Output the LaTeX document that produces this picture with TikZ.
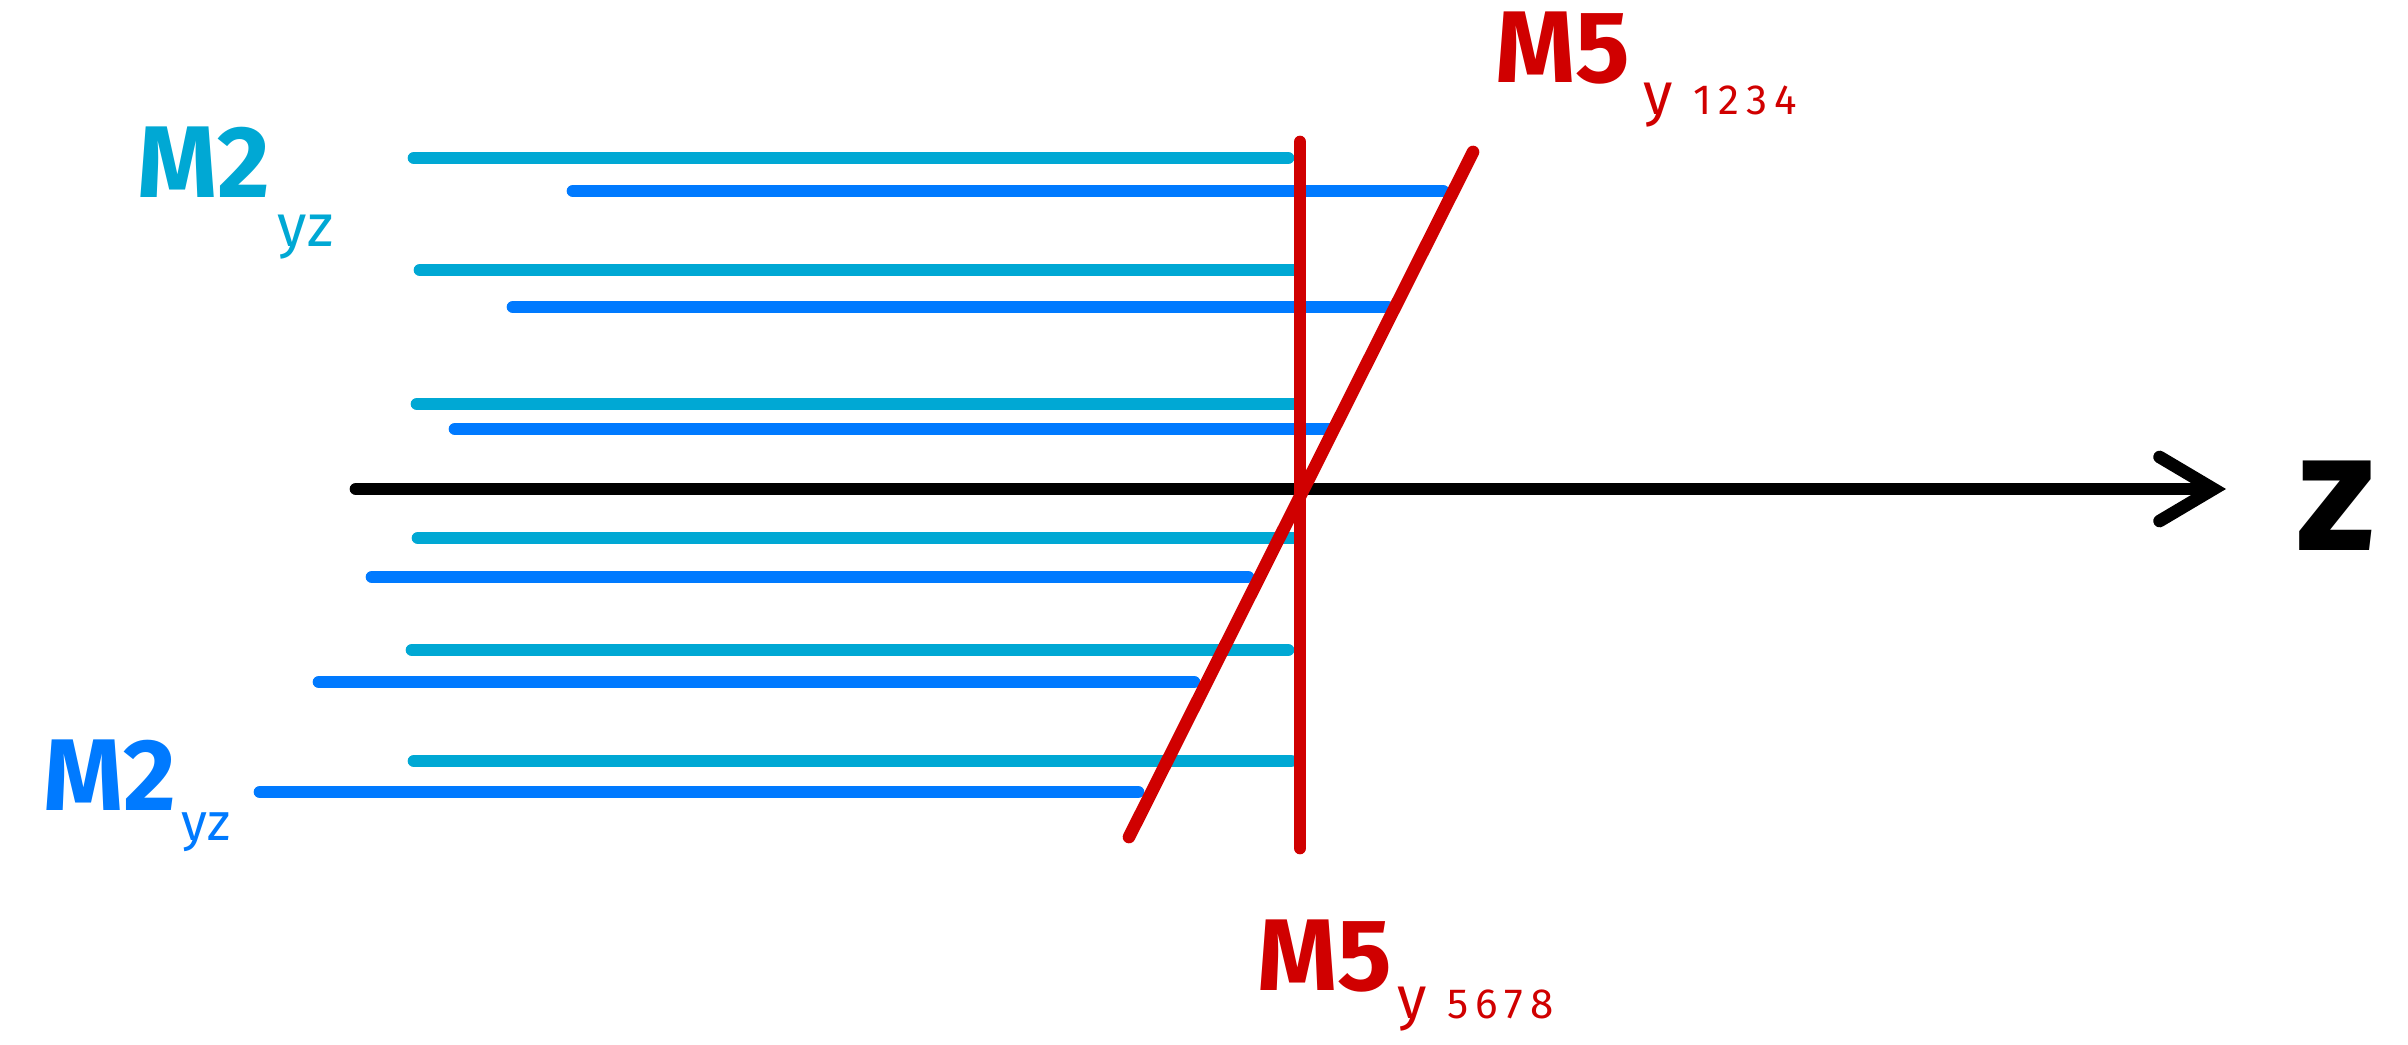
\documentclass[tikz,border=0pt]{standalone}
\usepackage{fontspec}
\setmainfont{Fira Sans}
\usetikzlibrary{arrows.meta,positioning}
\definecolor{mcyan}{RGB}{0,168,212}
\definecolor{mblue}{RGB}{0,122,255}
\definecolor{mred}{RGB}{208,0,0}
\tikzset{
  stroke/.style={line width=3.6pt, line cap=round},
  biglbl/.style={inner sep=0pt, anchor=base west, font=\fontsize{29}{34}\selectfont\bfseries},
  sublbl/.style={inner sep=0pt, anchor=base west, font=\fontsize{17}{20}\selectfont},
}
\newcommand{\digs}[1]{{\fontsize{12}{14}\selectfont #1}}

\begin{document}
\begin{tikzpicture}
  \useasboundingbox (0,0) rectangle (24.08,10.44);

  % M2 lines (light and dark blue)
  \foreach \y/\xa/\xb in {8.86/4.14/12.88, 7.74/4.20/12.96, 6.40/4.17/12.93,
                          5.06/4.18/12.93, 3.94/4.12/12.88, 2.83/4.14/12.91}{
    \draw[stroke,mcyan] (\xa,\y) -- (\xb,\y);
  }
  \foreach \y/\xa/\xb in {8.53/5.73/14.43, 7.37/5.13/13.88, 6.15/4.55/13.31,
                          4.67/3.72/12.48, 3.62/3.19/11.94, 2.52/2.60/11.38}{
    \draw[stroke,mblue] (\xa,\y) -- (\xb,\y);
  }

  % z axis
  \coordinate (zstart) at (3.56,5.55);
  \coordinate (zend)   at (22.26,5.55);
  \draw[stroke,-{Straight Barb[length=5.4mm,width=6.4mm,line cap=round]}] (zstart) -- (zend);

  % M5 cuts
  \coordinate (vtop) at (13.00,9.02);
  \coordinate (vbot) at (13.00,1.96);
  \coordinate (stop) at (14.73,8.92);
  \coordinate (sbot) at (11.29,2.07);
  \draw[stroke,mred] (vtop) -- (vbot);
  \draw[stroke,mred] (sbot) -- (stop);

  % labels
  \node[biglbl,mcyan] (m2top) at (1.37,8.47) {M2};
  \node[sublbl,mcyan] (m2topsub) at ([shift={(0.06,-0.49)}]m2top.base east) {yz};
  \node[biglbl,mblue] (m2bot) at (0.43,2.34) {M2};
  \node[sublbl,mblue,font=\fontsize{15}{18}\selectfont] (m2botsub) at ([shift={(0.04,-0.30)}]m2bot.base east) {yz};
  \node[biglbl,mred] (m5top) at (14.95,9.61) {M5};
  \node[sublbl,mred] (m5topsub) at ([shift={(0.12,-0.32)}]m5top.base east) {y\,\,\digs{1\,2\,3\,4}};
  \node[biglbl,mred] (m5bot) at (12.57,0.54) {M5};
  \node[sublbl,mred] (m5botsub) at ([shift={(0.04,-0.28)}]m5bot.base east) {y\,\,\digs{5\,6\,7\,8}};
  \node[inner sep=0pt,anchor=base,font=\fontsize{48}{54}\selectfont\bfseries] (zlab) at (23.36,4.94) {z};
\end{tikzpicture}
\end{document}
